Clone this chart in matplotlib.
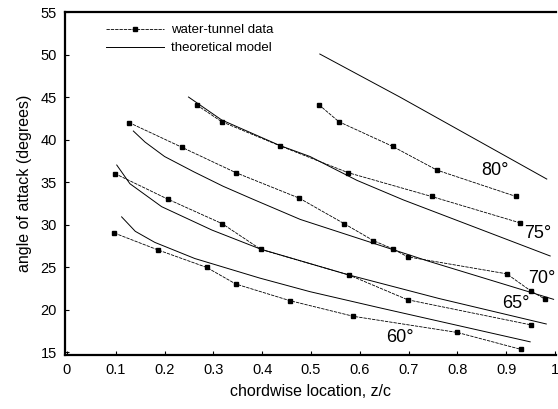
import numpy as np
import matplotlib
matplotlib.use("Agg")
import matplotlib.pyplot as plt

plt.rcParams["font.family"] = ["Liberation Sans", "DejaVu Sans"]

# water-tunnel data (z/c, angle of attack)
data_80_x = [0.516, 0.557, 0.667, 0.758, 0.920]
data_80_y = [44.1, 42.1, 39.2, 36.4, 33.3]
data_75_x = [0.266, 0.317, 0.436, 0.576, 0.747, 0.928]
data_75_y = [44.06, 42.1, 39.27, 36.1, 33.3, 30.2]
data_70_x = [0.127, 0.235, 0.346, 0.476, 0.568, 0.628, 0.667, 0.698, 0.901, 0.950, 0.980]
data_70_y = [42.0, 39.1, 36.1, 33.1, 30.1, 28.1, 27.15, 26.2, 24.2, 22.2, 21.2]
data_65_x = [0.098, 0.206, 0.318, 0.397, 0.578, 0.698, 0.950]
data_65_y = [36.0, 33.0, 30.1, 27.08, 24.06, 21.15, 18.2]
data_60_x = [0.097, 0.187, 0.286, 0.346, 0.457, 0.587, 0.800, 0.931]
data_60_y = [29.0, 27.0, 24.96, 23.0, 21.04, 19.2, 17.3, 15.3]

# theoretical model curves
model_80_x = [0.518, 0.682, 0.983]
model_80_y = [50.06, 45.0, 35.35]
model_75_x = [0.249, 0.317, 0.436, 0.498, 0.594, 0.689, 0.99]
model_75_y = [45.0, 42.3, 39.3, 38.0, 35.2, 32.9, 26.3]
model_70_x = [0.136, 0.16, 0.20, 0.26, 0.32, 0.38, 0.478, 0.74, 0.997]
model_70_y = [41.0, 39.7, 38.0, 36.2, 34.5, 33.0, 30.6, 25.7, 21.2]
model_65_x = [0.102, 0.129, 0.194, 0.297, 0.397, 0.578, 0.762, 0.982]
model_65_y = [37.0, 34.8, 32.1, 29.35, 27.1, 24.06, 21.3, 18.3]
model_60_x = [0.112, 0.14, 0.18, 0.262, 0.395, 0.498, 0.641, 0.949]
model_60_y = [30.9, 29.2, 27.9, 26.0, 23.7, 22.1, 20.2, 16.2]

sweep_labels = ["80°", "75°", "70°", "65°", "60°"]
label_x = [0.877, 0.965, 0.973, 0.92, 0.682]
label_y = [36.4, 29.0, 23.7, 20.7, 16.7]

data_sets = [(data_80_x, data_80_y), (data_75_x, data_75_y), (data_70_x, data_70_y),
             (data_65_x, data_65_y), (data_60_x, data_60_y)]
model_sets = [(model_80_x, model_80_y), (model_75_x, model_75_y), (model_70_x, model_70_y),
              (model_65_x, model_65_y), (model_60_x, model_60_y)]

fig = plt.figure(figsize=(5.58, 4.09), dpi=100)
ax = fig.add_axes([0.1165, 0.132, 0.88, 0.8386])

for i, (dx, dy) in enumerate(data_sets):
    ax.plot(dx, dy, color="black", lw=0.6, ls=(0, (4, 1.2)), marker="s", ms=3.0,
            label="water-tunnel data" if i == 0 else None)
for i, (mx, my) in enumerate(model_sets):
    ax.plot(mx, my, color="black", lw=0.7,
            label="theoretical model" if i == 0 else None)

for lab, lx, ly in zip(sweep_labels, label_x, label_y):
    ax.text(lx, ly, lab, fontsize=13, ha="center", va="center")

ax.set_xlim(-0.004, 1.002)
ax.set_ylim(14.65, 55.0)
ax.set_xticks(np.arange(0, 1.01, 0.1))
ax.set_xticklabels(["0", "0.1", "0.2", "0.3", "0.4", "0.5", "0.6", "0.7", "0.8", "0.9", "1"])
ax.set_yticks(range(15, 56, 5))
ax.tick_params(direction="in", length=3, width=0.8, labelsize=10.5, pad=6)
for side in ["left", "bottom", "top"]:
    ax.spines[side].set_linewidth(1.6)
ax.spines["right"].set_visible(False)

ax.set_xlabel("chordwise location, z/c", fontsize=11.5, labelpad=5)
ax.set_ylabel("angle of attack (degrees)", fontsize=11.5, labelpad=6)

ax.legend(loc="upper left", bbox_to_anchor=(0.06, 1.0), frameon=False, fontsize=9.5,
          handlelength=4.4, handletextpad=0.5, labelspacing=0.45, numpoints=1)

fig.savefig("out.png", dpi=100)
